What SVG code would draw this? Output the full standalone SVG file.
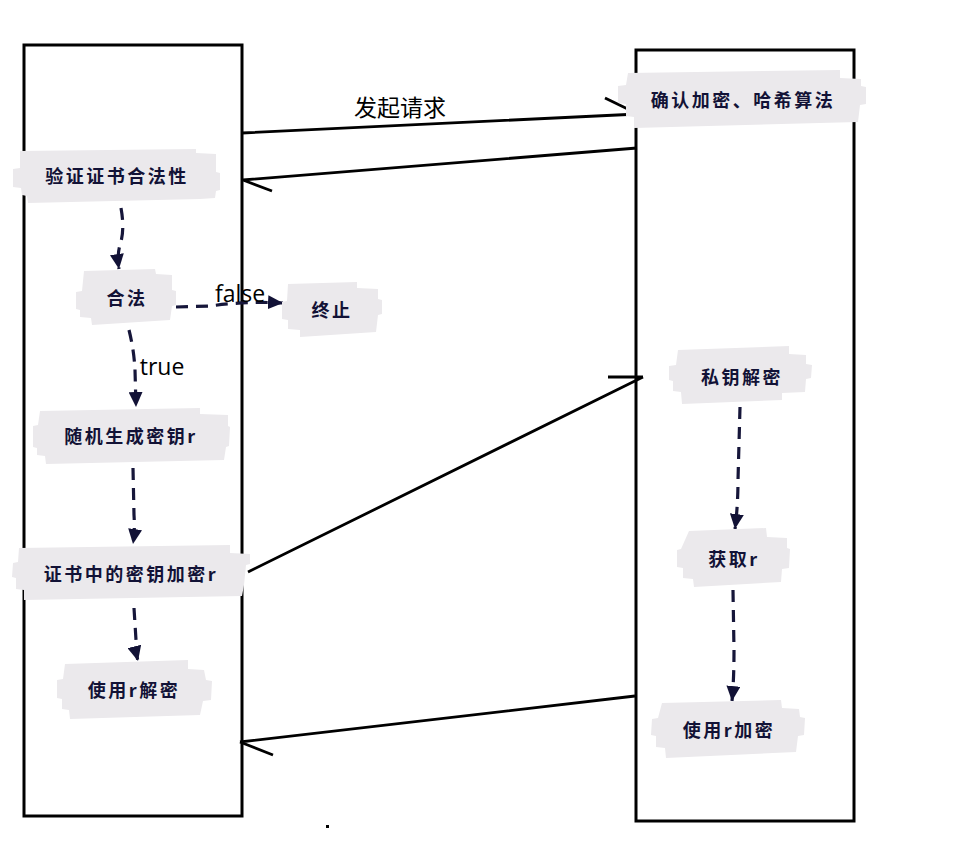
<svg xmlns="http://www.w3.org/2000/svg" width="967" height="864" viewBox="0 0 967 864">
<style>
.lane{fill:none;stroke:#000;stroke-width:3}
.nd{fill:#ebe9ec}
.tx{font-family:"Noto Sans CJK SC","Noto Sans",sans-serif;font-weight:700;font-size:18px;letter-spacing:2.5px;fill:#121236;text-anchor:middle}
.lbl{font-family:"Open Sans","Noto Sans CJK SC",sans-serif;font-size:23px;fill:#000;text-anchor:middle}
.sol{fill:none;stroke:#000;stroke-width:2.8}
.dash{fill:none;stroke:#16163a;stroke-width:3.2;stroke-dasharray:12 8;marker-end:url(#ah)}
</style>
<defs>
<marker id="ah" markerUnits="userSpaceOnUse" markerWidth="16" markerHeight="14" refX="15" refY="7" orient="auto" viewBox="0 0 16 14">
<path d="M0,0 L15,7 L0,14 z" fill="#121236"/>
</marker>
</defs>
<rect class="lane" x="24" y="45" width="218" height="771"/>
<rect class="lane" x="636" y="50" width="218" height="771"/>
<rect x="326" y="825" width="3" height="3" fill="#000"/>
<g id="connectors">
<path class="sol" d="M242,133 L638,114 M605,98 L638,114"/>
<path class="sol" d="M637,148 L243,180 M243,180 L272,191"/>
<path class="sol" d="M248,572 L643,377 M608,377 L643,377"/>
<path class="sol" d="M635,696 L240,742 M240,742 L273,755"/>
<path class="dash" d="M121,208 Q125,230 120,245 Q117,255 119,269"/>
<path class="dash" d="M176,307 L210,306 Q245,301 283,303"/>
<path class="dash" d="M129,330 Q134,350 135,370 L136,407"/>
<path class="dash" d="M133,468 L134,515 Q135,530 133,544"/>
<path class="dash" d="M134,608 L136,640 Q134,645 138,661"/>
<path class="dash" d="M740,407 L738,480 Q738,505 735,529"/>
<path class="dash" d="M733,590 L734,650 Q734,680 732,701"/>
<text class="lbl" x="400" y="116">发起请求</text>
<text class="lbl" x="240" y="302">false</text>
<text class="lbl" x="162" y="375">true</text>
</g>
<g id="n1"><path class="nd" d="M20,151 L196,149 L196,153 L216,154 L216,172 L220,173 L220,190 L216,191 L215,198 L200,199 L28,203 L27,196 L22,195 L21,188 L13,187 L13,169 L20,168 z"/><text class="tx" x="117" y="183">验证证书合法性</text></g>
<g id="n2"><path class="nd" d="M84,271 L155,269 L156,274 L172,275 L172,290 L176,291 L176,305 L172,306 L170,320 L92,325 L91,318 L80,317 L80,310 L76,309 L76,292 L82,291 z"/><text class="tx" x="127" y="305">合法</text></g>
<g id="n3"><path class="nd" d="M288,284 L357,282 L357,288 L378,289 L378,299 L382,300 L382,314 L378,315 L376,332 L300,337 L300,330 L288,329 L288,320 L282,319 L282,302 L287,301 z"/><text class="tx" x="332" y="317">终止</text></g>
<g id="n4"><path class="nd" d="M40,411 L200,408 L200,414 L228,415 L228,426 L230,427 L229,446 L226,447 L224,460 L46,464 L45,456 L37,455 L37,448 L33,447 L33,426 L38,425 z"/><text class="tx" x="131" y="443">随机生成密钥r</text></g>
<g id="n5"><path class="nd" d="M19,548 L230,545 L230,553 L250,554 L250,564 L246,565 L244,585 L242,596 L24,600 L24,590 L16,589 L16,578 L12,577 L13,563 L18,562 z"/><text class="tx" x="131" y="581">证书中的密钥加密r</text></g>
<g id="n6"><path class="nd" d="M65,664 L188,660 L188,669 L204,670 L206,680 L212,681 L211,700 L203,701 L200,715 L70,719 L69,710 L62,709 L62,699 L57,698 L57,680 L63,679 z"/><text class="tx" x="134" y="697">使用r解密</text></g>
<g id="n7"><path class="nd" d="M628,73 L840,70 L840,78 L861,79 L861,86 L866,87 L866,104 L860,105 L858,122 L634,128 L634,117 L626,116 L626,104 L618,103 L618,86 L626,85 z"/><text class="tx" x="743" y="107">确认加密、哈希算法</text></g>
<g id="n8"><path class="nd" d="M678,350 L789,346 L789,354 L806,355 L806,364 L812,365 L811,378 L806,379 L805,392 L782,393 L782,400 L682,404 L681,392 L673,391 L673,381 L669,380 L669,366 L676,365 z"/><text class="tx" x="742" y="384">私钥解密</text></g>
<g id="n9"><path class="nd" d="M689,531 L766,528 L767,537 L787,538 L787,548 L790,549 L789,568 L782,569 L781,582 L694,587 L693,579 L683,578 L683,568 L677,567 L677,550 L681,549 z"/><text class="tx" x="734" y="566">获取r</text></g>
<g id="n10"><path class="nd" d="M662,703 L781,700 L782,708 L799,709 L800,717 L805,718 L804,735 L798,736 L796,752 L666,758 L665,748 L656,747 L656,736 L651,735 L652,719 L658,718 z"/><text class="tx" x="729" y="737">使用r加密</text></g>
</svg>
